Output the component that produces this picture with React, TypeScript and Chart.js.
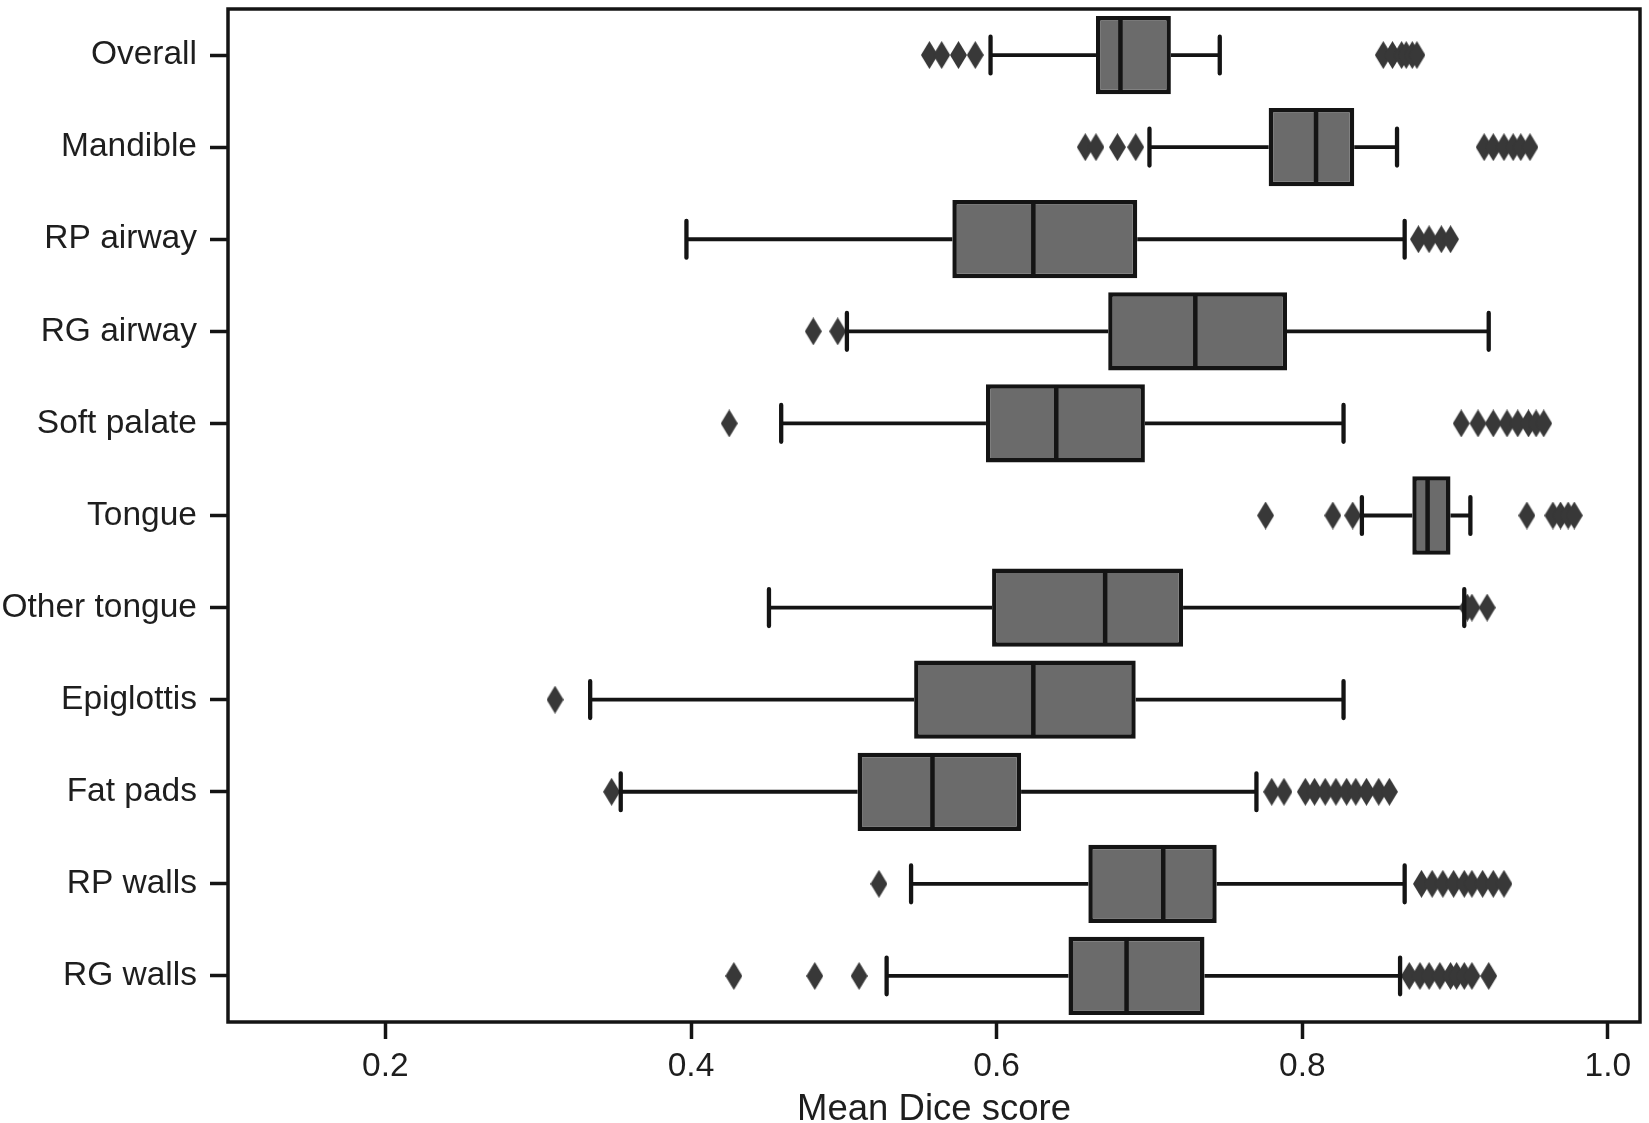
import React, { useEffect, useRef } from 'react';
import { Chart, registerables } from 'chart.js';

Chart.register(...registerables);

const categories = ['Overall', 'Mandible', 'RP airway', 'RG airway', 'Soft palate', 'Tongue', 'Other tongue', 'Epiglottis', 'Fat pads', 'RP walls', 'RG walls'];

const whiskerLow = [0.596, 0.700, 0.397, 0.502, 0.459, 0.839, 0.451, 0.334, 0.354, 0.544, 0.528];
const q1 = [0.665, 0.778, 0.571, 0.673, 0.593, 0.872, 0.597, 0.546, 0.509, 0.660, 0.647];
const median = [0.681, 0.809, 0.624, 0.730, 0.639, 0.882, 0.671, 0.624, 0.558, 0.709, 0.685];
const q3 = [0.714, 0.834, 0.692, 0.790, 0.697, 0.897, 0.722, 0.691, 0.616, 0.744, 0.736];
const whiskerHigh = [0.746, 0.862, 0.867, 0.922, 0.827, 0.910, 0.906, 0.827, 0.770, 0.867, 0.864];

const outOverall = [0.556, 0.564, 0.575, 0.586, 0.853, 0.859, 0.865, 0.868, 0.872, 0.875];
const outMandible = [0.658, 0.665, 0.679, 0.691, 0.919, 0.925, 0.932, 0.938, 0.943, 0.949];
const outRPairway = [0.876, 0.883, 0.891, 0.897];
const outRGairway = [0.480, 0.496];
const outSoftPalate = [0.425, 0.904, 0.915, 0.925, 0.934, 0.941, 0.948, 0.953, 0.958];
const outTongue = [0.776, 0.820, 0.833, 0.947, 0.964, 0.969, 0.974, 0.978];
const outOtherTongue = [0.908, 0.911, 0.921];
const outEpiglottis = [0.311];
const outFatPads = [0.348, 0.780, 0.788, 0.802, 0.808, 0.815, 0.822, 0.829, 0.835, 0.842, 0.850, 0.857];
const outRPwalls = [0.523, 0.878, 0.885, 0.892, 0.899, 0.906, 0.911, 0.918, 0.925, 0.932];
const outRGwalls = [0.428, 0.481, 0.510, 0.870, 0.877, 0.883, 0.890, 0.897, 0.901, 0.906, 0.911, 0.922];

const outliers = [outOverall, outMandible, outRPairway, outRGairway, outSoftPalate, outTongue, outOtherTongue, outEpiglottis, outFatPads, outRPwalls, outRGwalls];

const xTicks = [0.2, 0.4, 0.6, 0.8, 1.0];
const xMin = 0.097;
const xMax = 1.021;
const xTitle = 'Mean Dice score';

const LINE = '#141414';
const TEXT = '#1e1e1e';
const BOX_FILL = '#6b6b6b';
const OUT_FILL = '#383838';
const FONT = "'Liberation Sans', Arial, sans-serif";

function makeDiamond(w: number, h: number, color: string) {
  const c = document.createElement('canvas');
  c.width = w;
  c.height = h;
  const ctx = c.getContext('2d')!;
  ctx.fillStyle = color;
  ctx.beginPath();
  ctx.moveTo(w / 2, 0);
  ctx.lineTo(w, h / 2);
  ctx.lineTo(w / 2, h);
  ctx.lineTo(0, h / 2);
  ctx.closePath();
  ctx.fill();
  return c;
}

const boxPlugin = {
  id: 'boxParts',
  beforeDatasetsDraw(chart: any) {
    const { ctx } = chart;
    const x = chart.scales.x;
    const y = chart.scales.y;
    ctx.save();
    ctx.strokeStyle = LINE;
    ctx.lineWidth = 3.8;
    ctx.lineCap = 'butt';
    categories.forEach((_, i) => {
      const py = y.getPixelForValue(i);
      ctx.beginPath();
      ctx.moveTo(x.getPixelForValue(whiskerLow[i]), py);
      ctx.lineTo(x.getPixelForValue(q1[i]), py);
      ctx.moveTo(x.getPixelForValue(q3[i]), py);
      ctx.lineTo(x.getPixelForValue(whiskerHigh[i]), py);
      ctx.stroke();
    });
    ctx.restore();
  },
  afterDatasetsDraw(chart: any) {
    const { ctx, chartArea } = chart;
    const x = chart.scales.x;
    const y = chart.scales.y;
    const meta = chart.getDatasetMeta(1);
    const band = y.getPixelForValue(1) - y.getPixelForValue(0);
    ctx.save();
    ctx.strokeStyle = LINE;
    categories.forEach((_, i) => {
      const py = y.getPixelForValue(i);
      const el = meta.data[i];
      const hh = el ? Math.abs(el.height) / 2 : band * 0.42;
      // median
      ctx.lineWidth = 4.5;
      ctx.lineCap = 'butt';
      const mx = x.getPixelForValue(median[i]);
      ctx.beginPath();
      ctx.moveTo(mx, py - hh + 1);
      ctx.lineTo(mx, py + hh - 1);
      ctx.stroke();
      // caps
      const cap = band * 0.2;
      ctx.lineWidth = 4.3;
      ctx.lineCap = 'round';
      ctx.beginPath();
      const lx = x.getPixelForValue(whiskerLow[i]);
      const hx = x.getPixelForValue(whiskerHigh[i]);
      ctx.moveTo(lx, py - cap);
      ctx.lineTo(lx, py + cap);
      ctx.moveTo(hx, py - cap);
      ctx.lineTo(hx, py + cap);
      ctx.stroke();
    });
    // frame
    ctx.lineWidth = 3.5;
    ctx.lineCap = 'butt';
    ctx.strokeStyle = LINE;
    ctx.strokeRect(chartArea.left, chartArea.top, chartArea.right - chartArea.left, chartArea.bottom - chartArea.top);
    ctx.restore();
  },
};

export default function App() {
  const ref = useRef<HTMLCanvasElement | null>(null);

  useEffect(() => {
    if (!ref.current) return;
    const diamond = makeDiamond(17, 28, OUT_FILL);
    const outlierPoints: { x: number; y: string }[] = [];
    outliers.forEach((arr, i) => arr.forEach((v) => outlierPoints.push({ x: v, y: categories[i] })));

    const chart = new Chart(ref.current, {
      type: 'bar',
      data: {
        labels: categories,
        datasets: [
          {
            type: 'scatter',
            indexAxis: 'y',
            data: outlierPoints,
            pointStyle: diamond,
            pointRadius: 8,
            pointHoverRadius: 8,
            showLine: false,
          } as any,
          {
            type: 'bar',
            data: categories.map((_, i) => [q1[i], q3[i]]),
            backgroundColor: BOX_FILL,
            borderColor: LINE,
            borderWidth: 4.5,
            borderSkipped: false,
            barPercentage: 0.85,
            categoryPercentage: 1,
          } as any,
        ],
      },
      options: {
        indexAxis: 'y',
        responsive: false,
        animation: false,
        events: [],
        layout: { padding: { left: 0, right: 9, top: 9, bottom: 0 } },
        plugins: { legend: { display: false }, tooltip: { enabled: false } },
        scales: {
          x: {
            type: 'linear',
            min: xMin,
            max: xMax,
            afterBuildTicks: (s: any) => {
              s.ticks = xTicks.map((v) => ({ value: v }));
            },
            afterFit: (s: any) => {
              s.height = 101;
              s.paddingLeft = 0;
              s.paddingRight = 0;
              s.paddingTop = 0;
              s.paddingBottom = 0;
            },
            border: { display: false },
            grid: { drawOnChartArea: false, drawTicks: true, tickLength: 17, tickWidth: 3.5, tickColor: LINE },
            ticks: {
              color: TEXT,
              font: { family: FONT, size: 33.5 },
              padding: 8,
              maxRotation: 0,
              callback: (v: any) => Number(v).toFixed(1),
            },
            title: {
              display: true,
              text: xTitle,
              color: TEXT,
              font: { family: FONT, size: 36.5, lineHeight: 0.72 },
              padding: { top: 0, bottom: 0 },
            },
          },
          y: {
            type: 'category',
            offset: true,
            afterFit: (s: any) => {
              s.width = 228;
              s.paddingLeft = 0;
              s.paddingRight = 0;
              s.paddingTop = 0;
              s.paddingBottom = 0;
            },
            border: { display: false },
            grid: { offset: false, drawOnChartArea: false, drawTicks: true, tickLength: 18, tickWidth: 3.5, tickColor: LINE },
            ticks: {
              color: TEXT,
              font: { family: FONT, size: 33.5 },
              padding: 13,
            },
          },
        },
      } as any,
      plugins: [boxPlugin],
    });
    return () => chart.destroy();
  }, []);

  return (
    <div style={{ position: 'fixed', left: 0, top: 0, width: 1649, height: 1123, background: '#fff' }}>
      <canvas ref={ref} width={1649} height={1123} />
    </div>
  );
}
